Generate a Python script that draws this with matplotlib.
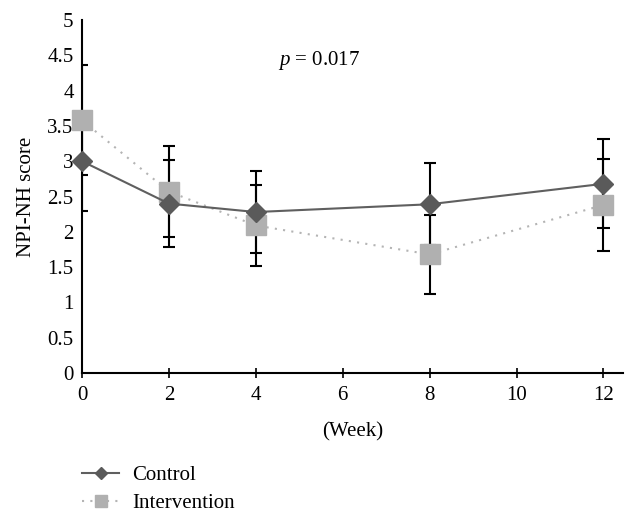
import numpy as np
import matplotlib as mpl
import matplotlib.pyplot as plt

mpl.rcParams['font.family'] = ['Liberation Serif', 'DejaVu Serif']
mpl.rcParams['mathtext.fontset'] = 'custom'
mpl.rcParams['mathtext.it'] = 'Liberation Serif:italic'
mpl.rcParams['mathtext.rm'] = 'Liberation Serif'

weeks = [0, 2, 4, 8, 12]
control_mean = [3.0, 2.4, 2.28, 2.39, 2.68]
control_sd = [0.7, 0.61, 0.58, 0.58, 0.63]
interv_mean = [3.58, 2.57, 2.09, 1.68, 2.38]
interv_sd = [0.78, 0.645, 0.58, 0.56, 0.65]
y_ticks = [0, 0.5, 1, 1.5, 2, 2.5, 3, 3.5, 4, 4.5, 5]
y_labels = ['0', '0.5', '1', '1.5', '2', '2.5', '3', '3.5', '4', '4.5', '5']

fig = plt.figure(figsize=(6.38, 5.22), dpi=100)
ax = fig.add_axes([0.1285, 0.2854, 0.848, 0.6763])

# error bars (caps drawn as hlines so they get clipped at the y axis like the original)
cap = 0.14
for m, s in [(control_mean, control_sd), (interv_mean, interv_sd)]:
    m = np.array(m)
    s = np.array(s)
    w = np.array(weeks)
    ax.vlines(w, m - s, m + s, color='black', linewidth=1.5, zorder=2)
    ax.hlines(m + s, w - cap, w + cap, color='black', linewidth=1.5, zorder=2)
    ax.hlines(m - s, w - cap, w + cap, color='black', linewidth=1.5, zorder=2)

ax.plot(weeks, interv_mean, linestyle=(0, (1, 3)), color='#b4b4b4', linewidth=1.5,
        marker='s', markersize=15, markerfacecolor='#b0b0b0', markeredgecolor='#b0b0b0',
        label='Intervention', zorder=3, clip_on=False)
ax.plot(weeks, control_mean, linestyle='-', color='#5f5f5f', linewidth=1.5,
        marker='D', markersize=10, markerfacecolor='#5a5a5a', markeredgecolor='#5a5a5a',
        label='Control', zorder=4, clip_on=False)

ax.set_xlim(0, 12.45)
ax.set_ylim(0, 5)
ax.set_xticks([0, 2, 4, 6, 8, 10, 12])
ax.set_yticks(y_ticks)
ax.set_yticklabels(y_labels)
ax.tick_params(axis='y', length=0, labelsize=15, pad=6)
ax.tick_params(axis='x', direction='inout', length=7, width=1.2, labelsize=15, pad=6)

ax.spines['top'].set_visible(False)
ax.spines['right'].set_visible(False)
ax.spines['left'].set_linewidth(1.5)
ax.spines['bottom'].set_linewidth(1.5)

ax.set_xlabel('(Week)', fontsize=15, labelpad=12)
ax.set_ylabel('NPI-NH score', fontsize=15, labelpad=8)

ax.text(5.45, 4.43, r'$p$ = 0.017', fontsize=15, ha='center', va='center')

handles, labels = ax.get_legend_handles_labels()
fig.legend(handles[::-1], labels[::-1], loc='upper left', bbox_to_anchor=(0.116, 0.124),
           frameon=False, fontsize=15, handlelength=1.75, handletextpad=0.65,
           labelspacing=0.4, markerscale=0.6, borderaxespad=0)

plt.savefig('out.png', dpi=100)
